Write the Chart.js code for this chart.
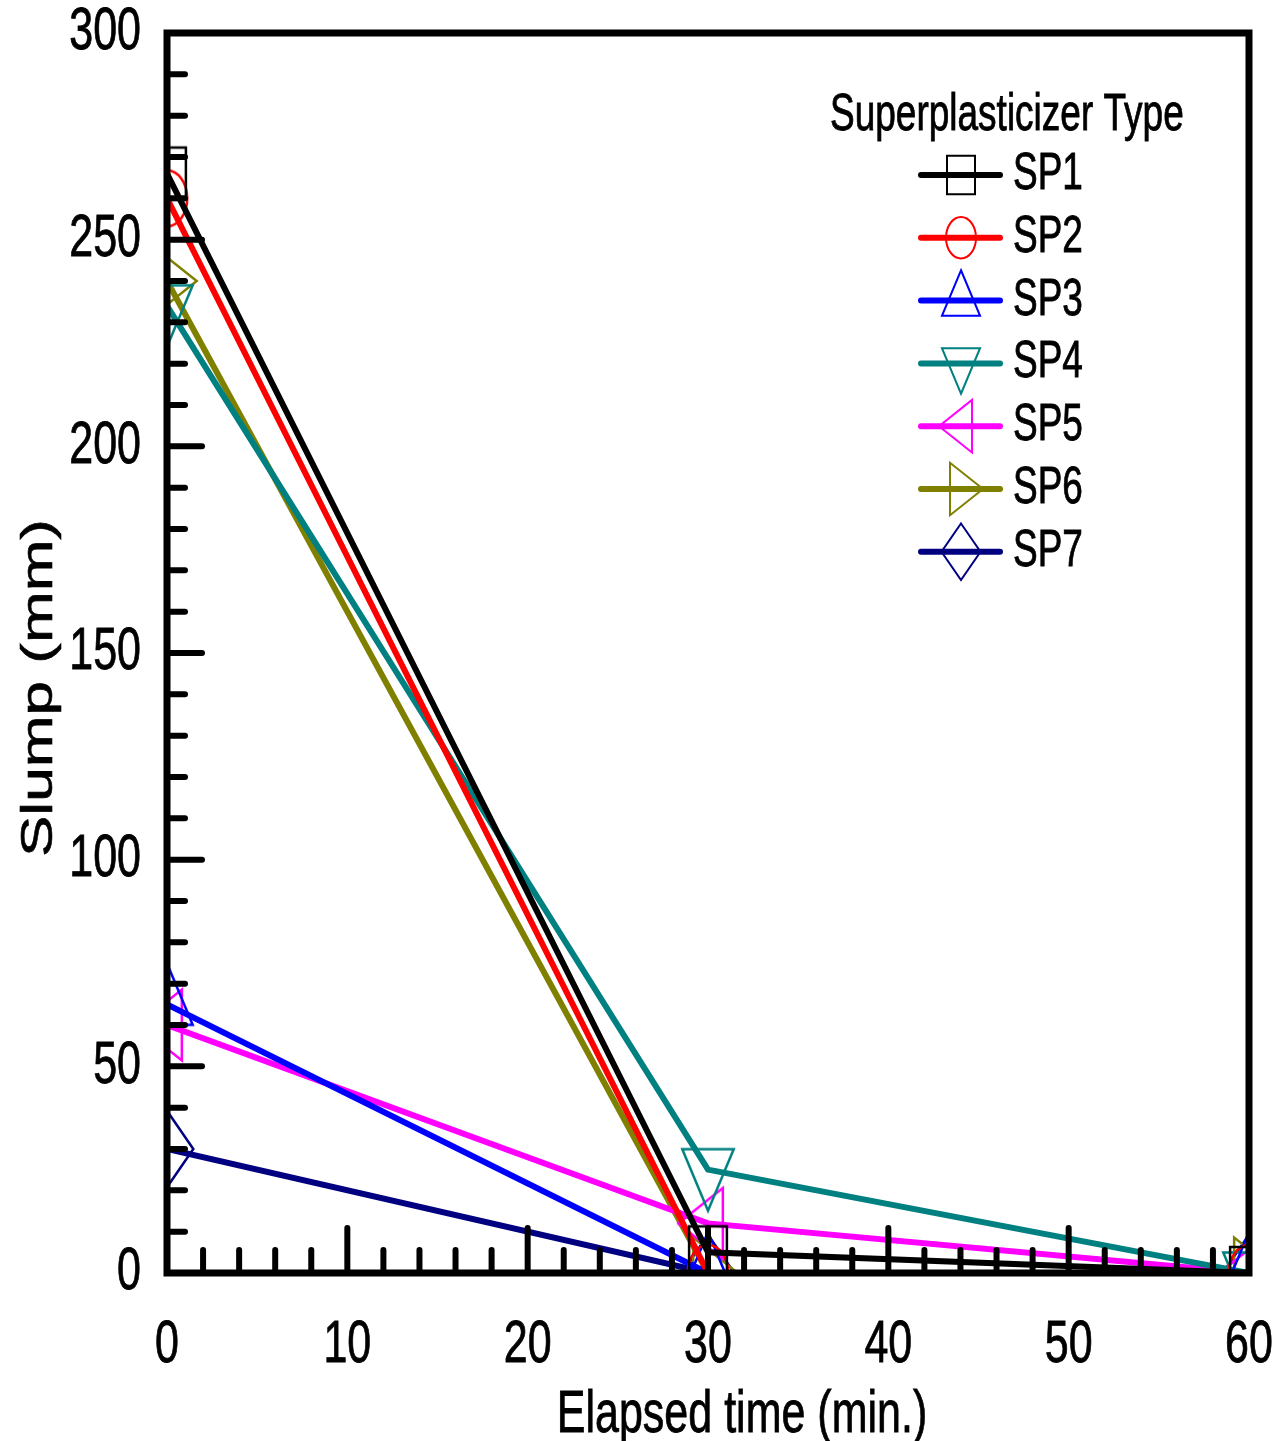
<!DOCTYPE html>
<html>
<head>
<meta charset="utf-8">
<script src="https://cdn.jsdelivr.net/npm/chart.js@4.4.1/dist/chart.umd.min.js"></script>
<style>
  html, body { margin: 0; padding: 0; background: #fff; }
</style>
</head>
<body>
<canvas id="myChart" width="1288" height="1441"></canvas>
<script>
// data
var elapsedTime = [0, 30, 60];
var sp1 = [266, 5, 0];
var sp2 = [260, 0, 0];
var sp3 = [65, 0, 0];
var sp4 = [234, 25, 0];
var sp5 = [60, 12, 0];
var sp6 = [240, 0, 0];
var sp7 = [30, 0, 0];

var seriesNames = ["SP1", "SP2", "SP3", "SP4", "SP5", "SP6", "SP7"];
var xTickLabels = [0, 10, 20, 30, 40, 50, 60];
var yTickLabels = [0, 50, 100, 150, 200, 250, 300];
var xTitle = "Elapsed time (min.)";
var yTitle = "Slump (mm)";
var legendTitle = "Superplasticizer Type";

var colors = ["#000000", "#ff0000", "#0000ff", "#008080", "#ff00ff", "#808000", "#000080"];
var shapes = ["square", "circle", "up", "down", "left", "right", "diamond"];

var K = 1.38; // the original figure is stretched vertically
var FONT = '"Liberation Sans", Arial, sans-serif';

// open marker path, s = size factor
function markerPath(ctx, shape, s) {
    var t = 22 * s, h = 11 * s, w = 19.05 * s;
    ctx.beginPath();
    if (shape == "square") {
        var a = 14 * s;
        ctx.rect(-a, -a * K, 2 * a, 2 * a * K);
    } else if (shape == "circle") {
        ctx.ellipse(0, 0, 15 * s, 15 * s * K, 0, 0, Math.PI * 2);
    } else if (shape == "up") {
        ctx.moveTo(0, -t * K); ctx.lineTo(w, h * K); ctx.lineTo(-w, h * K); ctx.closePath();
    } else if (shape == "down") {
        ctx.moveTo(0, t * K); ctx.lineTo(w, -h * K); ctx.lineTo(-w, -h * K); ctx.closePath();
    } else if (shape == "left") {
        ctx.moveTo(-t, 0); ctx.lineTo(h, w * K); ctx.lineTo(h, -w * K); ctx.closePath();
    } else if (shape == "right") {
        ctx.moveTo(t, 0); ctx.lineTo(-h, w * K); ctx.lineTo(-h, -w * K); ctx.closePath();
    } else {
        var d = 19.5 * s, e = 20.5 * s;
        ctx.moveTo(0, -e * K); ctx.lineTo(d, 0); ctx.lineTo(0, e * K); ctx.lineTo(-d, 0); ctx.closePath();
    }
}

function makeMarker(shape, color, s, lw) {
    var c = document.createElement("canvas");
    c.width = Math.ceil(50 * s) * 2;
    c.height = Math.ceil(50 * s * K) * 2;
    var ctx = c.getContext("2d");
    ctx.translate(c.width / 2, c.height / 2);
    ctx.strokeStyle = color;
    ctx.lineWidth = lw;
    markerPath(ctx, shape, s);
    ctx.stroke();
    return c;
}

function drawText(ctx, text, x, y, size, align, baseline, rotated) {
    ctx.save();
    ctx.translate(x, y);
    if (rotated) {
        ctx.rotate(-Math.PI / 2);
        ctx.scale(K, 1);
    } else {
        ctx.scale(1, K);
    }
    ctx.font = size + "px " + FONT;
    ctx.fillStyle = "#000";
    ctx.strokeStyle = "#000";
    ctx.lineWidth = 0.6;
    ctx.textAlign = align;
    ctx.textBaseline = baseline;
    ctx.fillText(text, 0, 0);
    ctx.strokeText(text, 0, 0);
    ctx.restore();
}

var allData = [sp1, sp2, sp3, sp4, sp5, sp6, sp7];
var datasets = [];
for (var i = 0; i < seriesNames.length; i++) {
    datasets.push({
        label: seriesNames[i],
        data: allData[i],
        borderColor: colors[i],
        backgroundColor: colors[i],
        borderWidth: 6,
        tension: 0,
        fill: false,
        pointStyle: makeMarker(shapes[i], colors[i], 1.35, 2.5),
        pointRadius: 20,
        pointHoverRadius: 20,
        clip: 0
    });
}

var framePlugin = {
    id: "frame",
    afterDraw: function (chart) {
        var ctx = chart.ctx;
        var a = chart.chartArea;
        var xs = chart.scales.x, ys = chart.scales.y;
        ctx.save();
        ctx.strokeStyle = "#000";
        ctx.lineCap = "round";
        ctx.lineWidth = 6;

        // inward ticks
        var v, p;
        for (v = 0; v <= 300; v += 10) {
            p = ys.getPixelForValue(v);
            var len = (v % 50 == 0) ? 35 : 18;
            ctx.beginPath(); ctx.moveTo(a.left, p); ctx.lineTo(a.left + len, p); ctx.stroke();
        }
        for (v = 0; v <= 60; v += 2) {
            p = xs.getPixelForValue(v);
            var len2 = (v % 10 == 0) ? 45 : 23;
            ctx.beginPath(); ctx.moveTo(p, a.bottom); ctx.lineTo(p, a.bottom - len2); ctx.stroke();
        }

        // box
        ctx.lineCap = "square";
        ctx.lineWidth = 7;
        ctx.strokeRect(a.left, a.top, a.right - a.left, a.bottom - a.top);
        ctx.restore();

        // tick labels
        yTickLabels.forEach(function (t) {
            drawText(ctx, String(t), 141, ys.getPixelForValue(t), 43, "right", "middle");
        });
        xTickLabels.forEach(function (t) {
            drawText(ctx, String(t), xs.getPixelForValue(t), 1346, 43, "center", "middle");
        });

        // axis titles
        drawText(ctx, xTitle, 742, 1432, 43, "center", "alphabetic");
        drawText(ctx, yTitle, 52, 688, 45, "center", "alphabetic", true);

        // legend
        drawText(ctx, legendTitle, 830, 130, 37, "left", "alphabetic");
        chart.data.datasets.forEach(function (ds, i) {
            var y = 175 + i * 62.8;
            ctx.save();
            ctx.strokeStyle = ds.borderColor;
            ctx.lineWidth = 6;
            ctx.lineCap = "round";
            ctx.beginPath(); ctx.moveTo(921, y); ctx.lineTo(1000, y); ctx.stroke();
            ctx.translate(961, y);
            ctx.strokeStyle = ds.borderColor;
            ctx.lineWidth = 2;
            markerPath(ctx, shapes[i], 1);
            ctx.stroke();
            ctx.restore();
            drawText(ctx, ds.label, 1013, y, 37, "left", "middle");
        });
    }
};

var chart = new Chart(document.getElementById("myChart"), {
    type: "line",
    data: {
        labels: elapsedTime,
        datasets: datasets
    },
    options: {
        responsive: false,
        animation: false,
        events: [],
        layout: { padding: { top: 33, right: 39, left: 0, bottom: 0 } },
        plugins: {
            legend: { display: false },
            tooltip: { enabled: false }
        },
        scales: {
            x: {
                type: "linear",
                min: 0,
                max: 60,
                ticks: { display: false, stepSize: 10 },
                grid: { display: false, drawTicks: false },
                border: { display: false },
                afterFit: function (scale) { scale.height = 168; }
            },
            y: {
                min: 0,
                max: 300,
                ticks: { display: false, stepSize: 50 },
                grid: { display: false, drawTicks: false },
                border: { display: false },
                afterFit: function (scale) { scale.width = 167; }
            }
        }
    },
    plugins: [framePlugin]
});
</script>
</body>
</html>
